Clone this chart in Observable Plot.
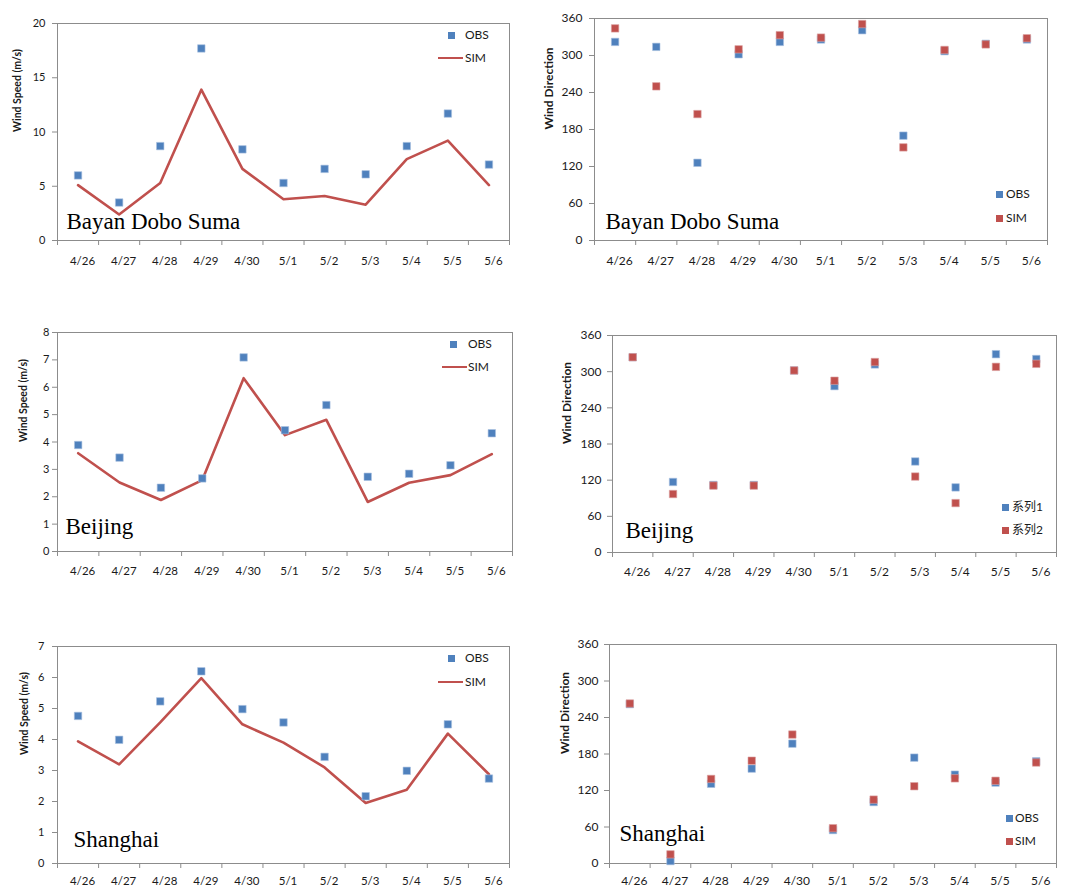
<!DOCTYPE html>
<html><head><meta charset="utf-8">
<script src="https://cdn.jsdelivr.net/npm/d3@7"></script>
<script src="https://cdn.jsdelivr.net/npm/@observablehq/plot@0.6"></script>
<style>
body{margin:0;background:#fff;}
#root{position:relative;width:1072px;height:889px;overflow:hidden;font-family:Lato,"Noto Sans CJK SC",sans-serif;background:#fff;}
.panel{position:absolute;}
.leg{position:absolute;font-size:12px;color:#1a1a1a;white-space:nowrap;line-height:12px;}
.sq{position:absolute;width:7px;height:7px;}
.ln{position:absolute;height:2.5px;}
</style></head><body><div id="root"></div>
<script>
// ---- data ----
const dates = ["4/26","4/27","4/28","4/29","4/30","5/1","5/2","5/3","5/4","5/5","5/6"];
const stations = ["Bayan Dobo Suma", "Beijing", "Shanghai"];
const speedTitle = "Wind Speed (m/s)";
const dirTitle = "Wind Direction";
const seriesNames = ["OBS", "SIM"];
const seriesNamesCN = ["系列1", "系列2"];

const bdsSpeedObs = [6.0, 3.5, 8.7, 17.7, 8.4, 5.3, 6.6, 6.1, 8.7, 11.7, 7.0];
const bdsSpeedSim = [5.1, 2.4, 5.3, 13.9, 6.6, 3.8, 4.1, 3.3, 7.5, 9.2, 5.1];
const bdsDirObs = [322, 314, 126, 302, 322, 326, 341, 170, 307, 319, 326];
const bdsDirSim = [344, 250, 205, 310, 333, 329, 351, 151, 309, 318, 328];

const bjSpeedObs = [3.89, 3.43, 2.33, 2.67, 7.09, 4.43, 5.35, 2.73, 2.84, 3.15, 4.32];
const bjSpeedSim = [3.59, 2.52, 1.88, 2.61, 6.33, 4.25, 4.81, 1.81, 2.51, 2.79, 3.56];
const bjDirObs = [324, 117, 112, 112, 302, 276, 312, 151, 108, 329, 321];
const bjDirSim = [324, 97, 111, 111, 302, 285, 316, 126, 82, 308, 313];

const shSpeedObs = [4.76, 3.99, 5.23, 6.2, 4.98, 4.55, 3.44, 2.17, 2.99, 4.49, 2.74];
const shSpeedSim = [3.94, 3.2, 4.55, 5.98, 4.49, 3.9, 3.1, 1.95, 2.38, 4.19, 2.88];
const shDirObs = [262, 4, 131, 156, 197, 55, 101, 174, 146, 133, 168];
const shDirSim = [263, 15, 139, 169, 212, 58, 105, 127, 140, 136, 166];

const ticks20 = [0, 5, 10, 15, 20];
const ticks8 = [0, 1, 2, 3, 4, 5, 6, 7, 8];
const ticks7 = [0, 1, 2, 3, 4, 5, 6, 7];
const ticks360 = [0, 60, 120, 180, 240, 300, 360];

const BLUE = "#4F81BD", RED = "#C0504D", AXIS = "#8c8c8c", INK = "#1a1a1a";
const root = document.getElementById("root");

function panel(o) {
  const rows = dates.map((d, i) => ({i, date: d, obs: o.obs[i], sim: o.sim[i]}));
  const [mt, mr, mb, ml] = o.margins;
  const bounds = d3.range(dates.length + 1).map(k => k - 0.5);
  const marks = [
    Plot.frame({stroke: AXIS, strokeWidth: 1}),
    Plot.axisY({ticks: o.yticks, tickSize: 5, tickPadding: o.yPad, fontSize: o.yFont, label: null,
      tickFormat: d => String(d), stroke: AXIS, fill: INK}),
    Plot.axisX({ticks: bounds, tickSize: 5, tickFormat: () => "", label: null, stroke: AXIS}),
    Plot.axisX({ticks: d3.range(dates.length), tickSize: 0, tickPadding: o.xPad, fontSize: o.xFont, dx: 4.5,
      tickFormat: i => dates[i], label: null, fill: INK}),
    Plot.text([o.ytitle], {frameAnchor: "left", rotate: -90, dx: o.titleDx, fontWeight: "bold",
      fontSize: o.titleFont, fill: INK, text: d => d}),
    Plot.text([o.station], {frameAnchor: "bottom-left", lineAnchor: "middle", textAnchor: "start",
      dx: o.stDx, dy: o.stDy, fontSize: 23, fontFamily: "'Liberation Serif', 'Times New Roman', serif",
      fill: "black", text: d => d})
  ];
  if (o.simLine) {
    marks.push(Plot.line(rows, {x: "i", y: "sim", stroke: RED, strokeWidth: 2.6}));
    marks.push(Plot.dot(rows, {x: "i", y: "obs", symbol: "square", r: 4.2, fill: BLUE, stroke: "#a9c1e0", strokeWidth: 0.6}));
  } else {
    marks.push(Plot.dot(rows, {x: "i", y: "obs", symbol: "square", r: 4.2, fill: BLUE, stroke: "#a9c1e0", strokeWidth: 0.6}));
    marks.push(Plot.dot(rows, {x: "i", y: "sim", symbol: "square", r: 4.2, fill: RED, stroke: "#dca3a2", strokeWidth: 0.6}));
  }
  const svg = Plot.plot({
    width: o.width, height: o.height,
    marginTop: mt, marginRight: mr, marginBottom: mb, marginLeft: ml,
    x: {type: "linear", domain: [-0.5, dates.length - 0.5], axis: null},
    y: {domain: [0, o.ymax], axis: null},
    style: {fontFamily: "Lato, sans-serif", background: "transparent", overflow: "visible", color: INK},
    marks
  });
  const wrap = document.createElement("div");
  wrap.className = "panel";
  wrap.style.left = o.left + "px";
  wrap.style.top = o.top + "px";
  wrap.appendChild(svg);
  root.appendChild(wrap);
}

function legend(items) {
  for (const it of items) {
    if (it.kind === "sq") {
      const s = document.createElement("div");
      s.className = "sq"; s.style.background = it.color;
      s.style.left = (it.mx - 3.5) + "px"; s.style.top = (it.y - 3.5) + "px";
      root.appendChild(s);
    } else {
      const l = document.createElement("div");
      l.className = "ln"; l.style.background = it.color;
      l.style.left = it.mx + "px"; l.style.width = it.mw + "px"; l.style.top = (it.y - 1.25) + "px";
      root.appendChild(l);
    }
    const t = document.createElement("div");
    t.className = "leg"; t.textContent = it.label;
    t.style.left = it.tx + "px"; t.style.top = (it.y - 6.5) + "px";
    root.appendChild(t);
  }
}

// Row 1
panel({left: 0, top: 0, width: 530, height: 280, margins: [23, 21, 40, 57], ymax: 20, yticks: ticks20,
  ytitle: speedTitle, titleDx: -40, titleFont: 10.5, yFont: 11, yPad: 7, xFont: 11.5, xPad: 16,
  obs: bdsSpeedObs, sim: bdsSpeedSim, simLine: true, station: stations[0], stDx: 9, stDy: -19});
panel({left: 530, top: 0, width: 542, height: 280, margins: [18, 25, 40, 64], ymax: 360, yticks: ticks360,
  ytitle: dirTitle, titleDx: -45, titleFont: 12, yFont: 12, yPad: 7, xFont: 12, xPad: 16,
  obs: bdsDirObs, sim: bdsDirSim, simLine: false, station: stations[0], stDx: 11, stDy: -19});
// Row 2
panel({left: 0, top: 300, width: 530, height: 290, margins: [32, 18, 39, 57], ymax: 8, yticks: ticks8,
  ytitle: speedTitle, titleDx: -34, titleFont: 10.5, yFont: 11, yPad: 3, xFont: 11.5, xPad: 15,
  obs: bjSpeedObs, sim: bjSpeedSim, simLine: true, station: stations[1], stDx: 8, stDy: -25});
panel({left: 530, top: 300, width: 542, height: 290, margins: [35, 16, 38, 82], ymax: 360, yticks: ticks360,
  ytitle: dirTitle, titleDx: -45, titleFont: 12, yFont: 12, yPad: 6, xFont: 12, xPad: 15,
  obs: bjDirObs, sim: bjDirSim, simLine: false, station: stations[1], stDx: 13, stDy: -22});
// Row 3
panel({left: 0, top: 600, width: 530, height: 289, margins: [46, 21, 26, 57], ymax: 7, yticks: ticks7,
  ytitle: speedTitle, titleDx: -33, titleFont: 10.5, yFont: 11, yPad: 8, xFont: 11.5, xPad: 13,
  obs: shSpeedObs, sim: shSpeedSim, simLine: true, station: stations[2], stDx: 16, stDy: -24});
panel({left: 530, top: 600, width: 542, height: 289, margins: [44, 16, 26, 79], ymax: 360, yticks: ticks360,
  ytitle: dirTitle, titleDx: -44, titleFont: 12, yFont: 12, yPad: 6, xFont: 12, xPad: 13,
  obs: shDirObs, sim: shDirSim, simLine: false, station: stations[2], stDx: 10, stDy: -30});

// Legends
legend([
  {kind: "sq", color: BLUE, mx: 451, y: 35, tx: 465, label: seriesNames[0]},
  {kind: "ln", color: RED, mx: 438, mw: 25, y: 58, tx: 465, label: seriesNames[1]},
  {kind: "sq", color: BLUE, mx: 999, y: 194, tx: 1006, label: seriesNames[0]},
  {kind: "sq", color: RED, mx: 999, y: 218, tx: 1006, label: seriesNames[1]},
  {kind: "sq", color: BLUE, mx: 453, y: 344, tx: 468, label: seriesNames[0]},
  {kind: "ln", color: RED, mx: 442, mw: 25, y: 367, tx: 468, label: seriesNames[1]},
  {kind: "sq", color: BLUE, mx: 1005, y: 507, tx: 1012, label: seriesNamesCN[0]},
  {kind: "sq", color: RED, mx: 1005, y: 530, tx: 1012, label: seriesNamesCN[1]},
  {kind: "sq", color: BLUE, mx: 451, y: 658, tx: 465, label: seriesNames[0]},
  {kind: "ln", color: RED, mx: 438, mw: 25, y: 682, tx: 465, label: seriesNames[1]},
  {kind: "sq", color: BLUE, mx: 1009, y: 818, tx: 1015, label: seriesNames[0]},
  {kind: "sq", color: RED, mx: 1009, y: 841, tx: 1015, label: seriesNames[1]}
]);
</script></body></html>
